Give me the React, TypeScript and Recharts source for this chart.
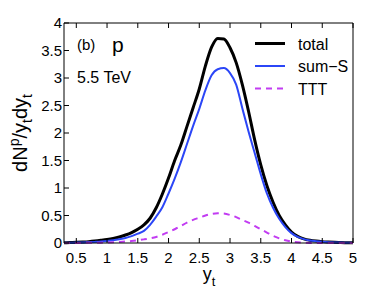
import { LineChart, Line, XAxis, YAxis } from "recharts";

const yt = [
  0.3, 0.4, 0.5, 0.6, 0.7, 0.8, 0.9, 1.0, 1.1, 1.2, 1.3, 1.4, 1.5, 1.6, 1.7, 1.8,
  1.9, 2.0, 2.1, 2.2, 2.3, 2.4, 2.5, 2.6, 2.7, 2.8, 2.9, 3.0, 3.1, 3.2, 3.3, 3.4,
  3.5, 3.6, 3.7, 3.8, 3.9, 4.0, 4.1, 4.2, 4.3, 4.4, 4.5, 4.6, 4.7, 4.8, 4.9, 5.0,
];

const total = [
  0.005, 0.008, 0.012, 0.018, 0.025, 0.035, 0.048, 0.063, 0.083, 0.11, 0.145, 0.19,
  0.25, 0.33, 0.45, 0.64, 0.89, 1.18, 1.5, 1.78, 2.12, 2.46, 2.8, 3.22, 3.56, 3.72,
  3.71, 3.55, 3.28, 2.88, 2.4, 1.88, 1.42, 1.04, 0.74, 0.5, 0.33, 0.2, 0.12, 0.075,
  0.05, 0.035, 0.025, 0.018, 0.012, 0.008, 0.005, 0.003,
];

const sumS = [
  0.003, 0.005, 0.007, 0.01, 0.014, 0.02, 0.027, 0.037, 0.05, 0.068, 0.09, 0.125,
  0.17, 0.22, 0.33, 0.48, 0.65, 0.9, 1.17, 1.47, 1.8, 2.13, 2.44, 2.78, 3.05, 3.16,
  3.18, 3.09, 2.88, 2.45, 2.03, 1.64, 1.25, 0.9, 0.64, 0.44, 0.29, 0.18, 0.11, 0.07,
  0.045, 0.032, 0.022, 0.015, 0.01, 0.007, 0.005, 0.003,
];

const ttt = [
  0, 0, 0.001, 0.002, 0.003, 0.004, 0.006, 0.009, 0.013, 0.019, 0.027, 0.037, 0.05,
  0.066, 0.085, 0.11, 0.15, 0.2, 0.25, 0.31, 0.37, 0.42, 0.46, 0.5, 0.53, 0.54, 0.535,
  0.51, 0.47, 0.42, 0.37, 0.31, 0.25, 0.19, 0.13, 0.085, 0.05, 0.025, 0.012, 0.005,
  0.002, 0, 0, 0, 0, 0, 0, 0,
];

const xTicks = [0.5, 1, 1.5, 2, 2.5, 3, 3.5, 4, 4.5, 5];
const yTicks = [0, 0.5, 1, 1.5, 2, 2.5, 3, 3.5, 4];

const series = [
  { key: "total", name: "total", color: "#000", width: 3, dash: undefined },
  { key: "sumS", name: "sum−S", color: "#2b46f7", width: 2, dash: undefined },
  { key: "ttt", name: "TTT", color: "#c23cf2", width: 2, dash: "6 5" },
];

const data = yt.map((x, i) => ({ x, total: total[i], sumS: sumS[i], ttt: ttt[i] }));

const font = "'Liberation Sans', Arial, Helvetica, sans-serif";
const tickStyle = { fontSize: 15, fill: "#000", fontFamily: font };

export default function App() {
  return (
    <div style={{ position: "absolute", left: 0, top: 0, width: 390, height: 294 }}>
      <LineChart
        width={390}
        height={294}
        data={data}
        margin={{ top: 22, right: 36, bottom: 0, left: 0 }}
      >
        <XAxis
          dataKey="x"
          type="number"
          domain={[0.3, 5]}
          ticks={xTicks}
          interval={0}
          allowDataOverflow
          height={51}
          stroke="#000"
          tickSize={-5}
          tickMargin={14}
          tick={tickStyle}
        />
        <XAxis
          xAxisId="top"
          dataKey="x"
          type="number"
          orientation="top"
          domain={[0.3, 5]}
          ticks={xTicks}
          interval={0}
          height={1}
          stroke="#000"
          tickSize={-5}
          tickFormatter={() => ""}
        />
        <YAxis
          type="number"
          domain={[0, 4]}
          ticks={yTicks}
          interval={0}
          width={64}
          stroke="#000"
          tickSize={-5}
          tickMargin={7}
          tick={tickStyle}
        />
        <YAxis
          yAxisId="right"
          orientation="right"
          type="number"
          domain={[0, 4]}
          ticks={yTicks}
          interval={0}
          width={1}
          stroke="#000"
          tickSize={-5}
          tickFormatter={() => ""}
        />
        {series.map((s) => (
          <Line
            key={s.key}
            dataKey={s.key}
            name={s.name}
            type="monotone"
            stroke={s.color}
            strokeWidth={s.width}
            strokeDasharray={s.dash}
            dot={false}
            isAnimationActive={false}
          />
        ))}
      </LineChart>
      <svg
        width={390}
        height={294}
        style={{ position: "absolute", left: 0, top: 0, pointerEvents: "none" }}
        fontFamily={font}
      >
        <text x={77} y={50} fontSize={15}>(b)</text>
        <text x={112} y={52} fontSize={21}>p</text>
        <text x={77} y={83} fontSize={16}>5.5 TeV</text>
        {series.map((s, i) => {
          const cy = 43.5 + i * 22.5;
          return (
            <g key={s.key}>
              <line
                x1={255}
                x2={285}
                y1={cy}
                y2={cy}
                stroke={s.color}
                strokeWidth={s.width}
                strokeDasharray={s.dash}
              />
              <text x={298} y={cy + 6} fontSize={16}>
                {s.name}
              </text>
            </g>
          );
        })}
        <text x={209} y={280} fontSize={18} textAnchor="middle">
          y<tspan fontSize={13} dy={6}>t</tspan>
        </text>
        <text
          x={27}
          y={133}
          fontSize={20}
          textAnchor="middle"
          transform="rotate(-90, 27, 133)"
        >
          dN<tspan fontSize={14} dy={-8}>p</tspan>
          <tspan dy={8}>/y</tspan>
          <tspan fontSize={14} dy={5}>t</tspan>
          <tspan dy={-5}>dy</tspan>
          <tspan fontSize={14} dy={5}>t</tspan>
        </text>
      </svg>
    </div>
  );
}
